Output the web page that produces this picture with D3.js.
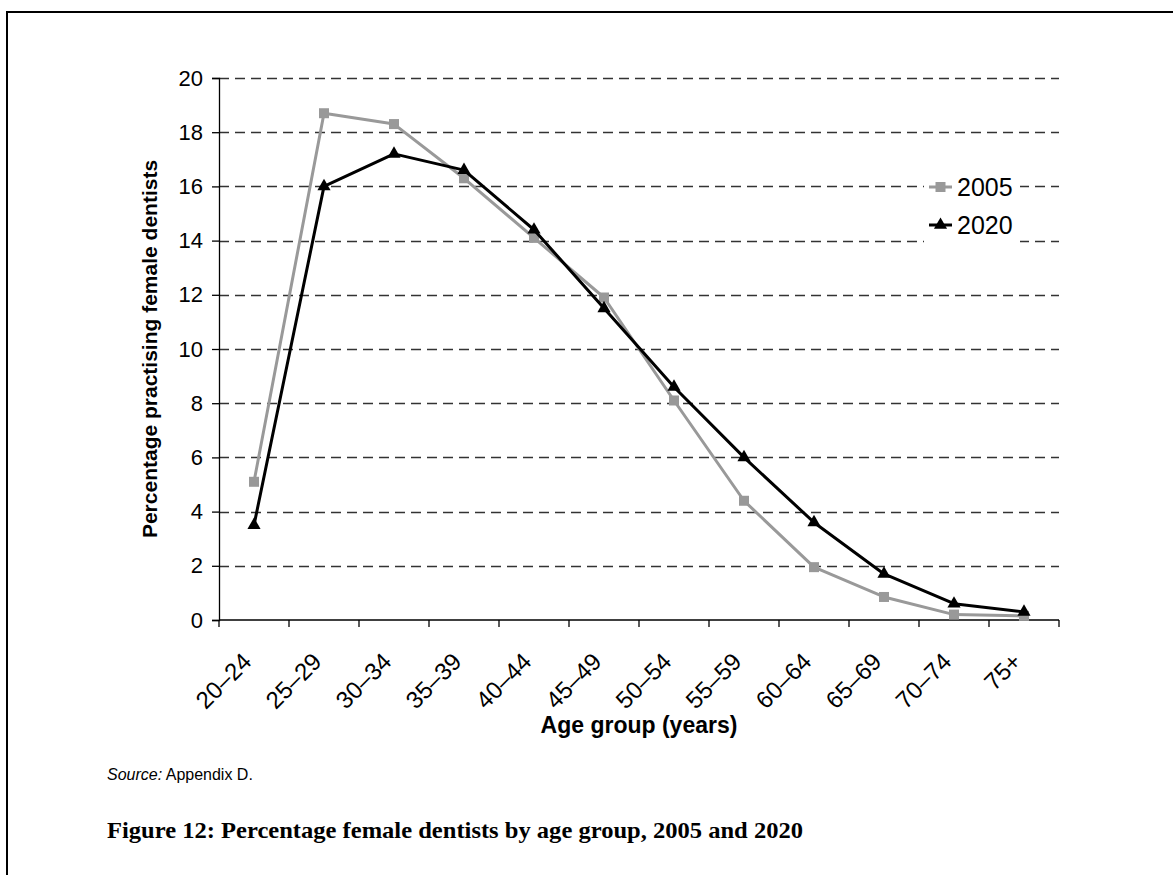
<!DOCTYPE html>
<html>
<head>
<meta charset="utf-8">
<script src="https://cdn.jsdelivr.net/npm/d3@7/dist/d3.min.js"></script>
<style>
  html, body { margin: 0; padding: 0; background: #fff; }
  svg { display: block; }
  text { font-family: Arial, "Liberation Sans", sans-serif; }
  text.caption { font-family: "Liberation Serif", "DejaVu Serif", serif; }
</style>
</head>
<body>
<script>
// Age groups and share of practising female dentists (%) in each group
const ageGroups = ["20–24","25–29","30–34","35–39","40–44","45–49","50–54","55–59","60–64","65–69","70–74","75+"];
const values2005 = [5.1, 18.7, 18.3, 16.3, 14.1, 11.9, 8.1, 4.4, 1.95, 0.85, 0.2, 0.15];
const values2020 = [3.5, 16.0, 17.2, 16.6, 14.4, 11.5, 8.6, 6.0, 3.6, 1.7, 0.6, 0.3];
const yTicks = [0, 2, 4, 6, 8, 10, 12, 14, 16, 18, 20];
const seriesNames = ["2005", "2020"];

const W = 1173, H = 875;
const svg = d3.select("body").append("svg").attr("width", W).attr("height", H);

// page frame: top and left rules
svg.append("line").attr("x1", 6).attr("x2", W).attr("y1", 12).attr("y2", 12)
  .attr("stroke", "#000").attr("stroke-width", 2);
svg.append("line").attr("x1", 7).attr("x2", 7).attr("y1", 11).attr("y2", H)
  .attr("stroke", "#000").attr("stroke-width", 2);

const plotLeft = 219, plotRight = 1059, plotTop = 78, plotBottom = 620;

const x = d3.scaleBand().domain(ageGroups).range([plotLeft, plotRight]).padding(0);
const y = d3.scaleLinear().domain([0, 20]).range([plotBottom, plotTop]);

// dashed horizontal gridlines, snapped to whole pixels
svg.append("g").selectAll("line").data(yTicks.filter(d => d > 0)).join("line")
  .attr("x1", plotLeft).attr("x2", plotRight)
  .attr("y1", d => Math.round(y(d)) + 0.5).attr("y2", d => Math.round(y(d)) + 0.5)
  .attr("stroke", "#333").attr("stroke-width", 1.4)
  .attr("stroke-dasharray", "10,6");

// y axis
const yAxis = svg.append("g").attr("transform", `translate(${plotLeft},0)`)
  .call(d3.axisLeft(y).tickValues(yTicks).tickSize(7).tickPadding(9).tickFormat(d3.format("d")));
yAxis.select(".domain").attr("stroke", "#000").attr("stroke-width", 1.3);
yAxis.selectAll(".tick line").attr("stroke", "#000").attr("stroke-width", 1.3);
yAxis.selectAll("text").attr("font-size", 22).attr("fill", "#000")
  .attr("font-family", "Arial, 'Liberation Sans', sans-serif");

// x axis: ticks at category boundaries
const boundaries = ageGroups.map(g => x(g)).concat([plotRight]);
svg.append("line").attr("x1", plotLeft).attr("x2", plotRight).attr("y1", plotBottom).attr("y2", plotBottom)
  .attr("stroke", "#000").attr("stroke-width", 1.3);
svg.append("g").selectAll("line").data(boundaries).join("line")
  .attr("x1", d => d).attr("x2", d => d).attr("y1", plotBottom).attr("y2", plotBottom + 7)
  .attr("stroke", "#000").attr("stroke-width", 1.3);

// rotated category labels
svg.append("g").selectAll("text").data(ageGroups).join("text")
  .attr("transform", d => `translate(${x(d) + x.bandwidth() / 2 - 7},657) rotate(-45)`)
  .attr("text-anchor", "end")
  .attr("dominant-baseline", "central")
  .attr("font-size", 24)
  .text(d => d);

// axis titles
svg.append("text")
  .attr("x", 639).attr("y", 733)
  .attr("text-anchor", "middle").attr("font-weight", "bold").attr("font-size", 23)
  .text("Age group (years)");
svg.append("text")
  .attr("transform", `translate(157,${(plotTop + plotBottom) / 2}) rotate(-90)`)
  .attr("text-anchor", "middle").attr("font-weight", "bold").attr("font-size", 21)
  .text("Percentage practising female dentists");

// series
const cx = d => x(d) + x.bandwidth() / 2;
const line = d3.line().x(d => cx(d.g)).y(d => y(d.v));
const series = [
  { name: seriesNames[0], values: values2005, color: "#999999", symbol: d3.symbolSquare, size: 100 },
  { name: seriesNames[1], values: values2020, color: "#000000", symbol: d3.symbolTriangle, size: 75 }
];

series.forEach(s => {
  const pts = ageGroups.map((g, i) => ({ g, v: s.values[i] }));
  svg.append("path").datum(pts)
    .attr("d", line).attr("fill", "none")
    .attr("stroke", s.color).attr("stroke-width", 3).attr("stroke-linejoin", "round");
  svg.append("g").selectAll("path").data(pts).join("path")
    .attr("d", d3.symbol().type(s.symbol).size(s.size))
    .attr("transform", d => `translate(${cx(d.g)},${y(d.v)})`)
    .attr("fill", s.color);
});

// legend
const lg = svg.append("g");
lg.append("rect").attr("x", 924).attr("y", 170).attr("width", 96).attr("height", 80).attr("fill", "#fff");
series.forEach((s, i) => {
  const ly = 187 + i * 38;
  lg.append("line").attr("x1", 929).attr("x2", 952).attr("y1", ly).attr("y2", ly)
    .attr("stroke", s.color).attr("stroke-width", 3);
  lg.append("path").attr("d", d3.symbol().type(s.symbol).size(s.size)())
    .attr("transform", `translate(940.5,${ly})`).attr("fill", s.color);
  lg.append("text").attr("x", 957).attr("y", ly).attr("dominant-baseline", "central")
    .attr("font-size", 25).text(s.name);
});

// source note
const src = svg.append("text").attr("x", 107).attr("y", 780).attr("font-size", 16);
src.append("tspan").attr("font-style", "italic").text("Source:");
src.append("tspan").text(" Appendix D.");

// figure caption
svg.append("text").attr("class", "caption").attr("x", 107).attr("y", 838)
  .attr("font-weight", "bold").attr("font-size", 23)
  .attr("textLength", 696).attr("lengthAdjust", "spacingAndGlyphs")
  .text("Figure 12: Percentage female dentists by age group, 2005 and 2020");
</script>
</body>
</html>
